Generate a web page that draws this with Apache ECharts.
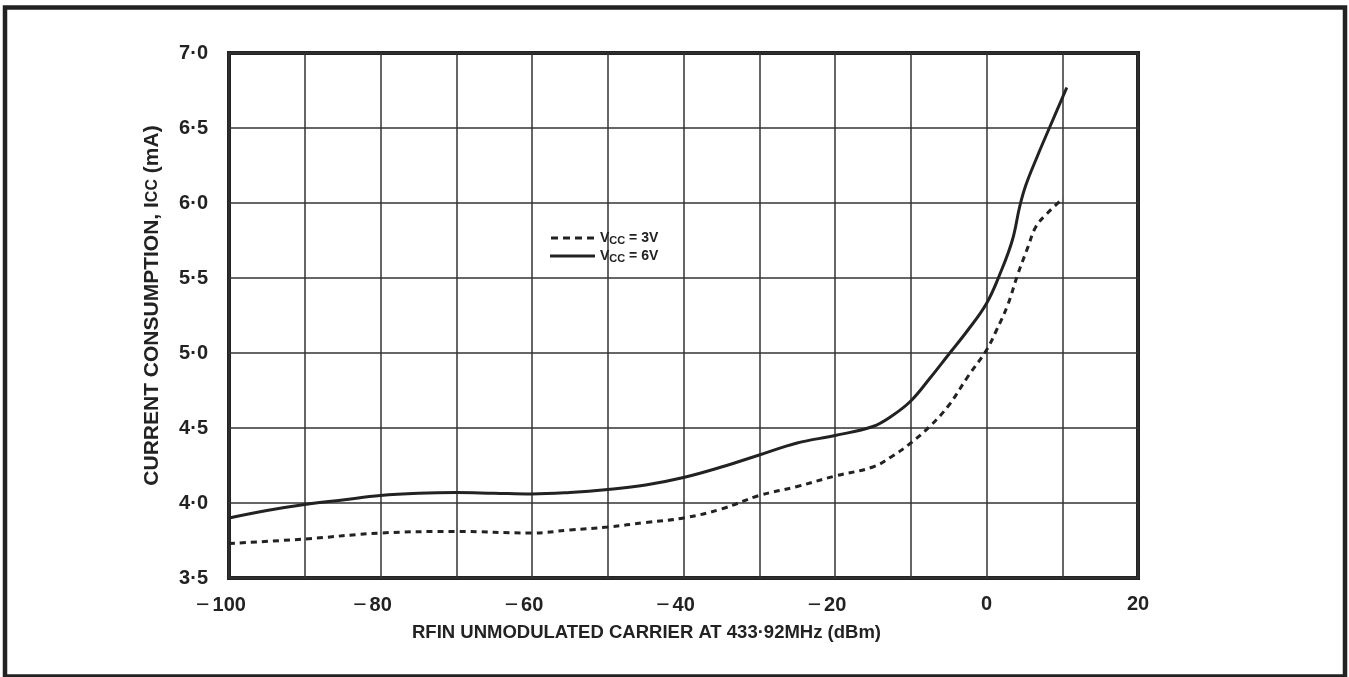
<!DOCTYPE html>
<html>
<head>
<meta charset="utf-8">
<script src="https://cdn.jsdelivr.net/npm/echarts@6/dist/echarts.min.js"></script>
<style>
  html, body { margin: 0; padding: 0; background: #fff; }
  #chart { width: 1349px; height: 677px; }
</style>
</head>
<body>
<div id="chart"></div>
<script>
// 读图得到的数据 (x = RF input dBm, y = Icc mA)
const vcc3V = [
  [-100, 3.73], [-90, 3.76], [-80, 3.80], [-70, 3.81], [-60, 3.80], [-55, 3.82],
  [-50, 3.84], [-45, 3.87], [-40, 3.90], [-35, 3.96], [-30, 4.05], [-25, 4.11],
  [-20, 4.18], [-15, 4.24], [-12.5, 4.31], [-10, 4.40], [-7.5, 4.51], [-5, 4.65],
  [-2.5, 4.84], [0, 5.02], [1.3, 5.15], [2.8, 5.32], [4.1, 5.52], [5.5, 5.71],
  [6.5, 5.84], [8.0, 5.93], [10.1, 6.03]
];
const vcc6V = [
  [-100, 3.90], [-95, 3.95], [-90, 3.99], [-85, 4.02], [-80, 4.05], [-75, 4.065],
  [-70, 4.07], [-65, 4.065], [-60, 4.06], [-55, 4.07], [-50, 4.09], [-45, 4.12],
  [-40, 4.17], [-35, 4.24], [-30, 4.32], [-25, 4.40], [-20, 4.45], [-15, 4.51],
  [-12.5, 4.58], [-10, 4.68], [-7.5, 4.83], [-5, 4.99], [-2.5, 5.15], [0, 5.33],
  [1.8, 5.53], [3.4, 5.75], [4.4, 5.98], [5.2, 6.12], [6.7, 6.31], [8.3, 6.5], [10.6, 6.77]
];
const seriesNames = ['VCC = 3V', 'VCC = 6V'];
const xTicks = [-100, -80, -60, -40, -20, 0, 20];

const ink = '#222';
const font = 'Liberation Sans, Arial, sans-serif';

const chart = echarts.init(document.getElementById('chart'));
const option = {
  backgroundColor: '#fff',
  animation: false,
  graphic: [
    {
      // 外框
      type: 'rect',
      shape: { x: 5, y: 7.5, width: 1340, height: 669 },
      style: { fill: 'none', stroke: ink, lineWidth: 4.5 }
    }
  ],
  grid: {
    left: 229, right: 211, top: 53, bottom: 99,
    show: true, borderColor: ink, borderWidth: 4
  },
  legend: {
    orient: 'vertical',
    left: 545, top: 226,
    itemWidth: 45, itemHeight: 3, itemGap: 3,
    data: [
      { name: seriesNames[0], icon: 'path://M0,0h7v3h-7z M12,0h7v3h-7z M24,0h7v3h-7z M36,0h7v3h-7z' },
      { name: seriesNames[1], icon: 'path://M0,0h45v3h-45z' }
    ],
    itemStyle: { color: ink, borderWidth: 0 },
    formatter: name => '{v|V}{s|CC}{v|' + name.slice(3) + '}',
    textStyle: {
      rich: {
        v: { fontFamily: font, fontWeight: 'bold', fontSize: 14, color: ink },
        s: { fontFamily: font, fontWeight: 'bold', fontSize: 11, color: ink, padding: [5, 0, 0, 0] }
      }
    }
  },
  xAxis: {
    type: 'value',
    min: -100, max: 20, interval: 10,
    name: 'RFIN UNMODULATED CARRIER AT 433·92MHz (dBm)',
    nameLocation: 'middle',
    nameGap: 45,
    nameTextStyle: {
      fontFamily: font, fontWeight: 'bold', fontSize: 18.5, color: ink,
      padding: [0, 74, 0, 0]
    },
    axisLine: { show: false },
    axisTick: { show: false },
    splitLine: { lineStyle: { color: '#333', width: 1.5 } },
    axisLabel: {
      margin: 16,
      fontFamily: font, fontWeight: 'bold', fontSize: 20, color: ink,
      formatter: v => {
        if (xTicks.indexOf(v) < 0) return '';
        return v < 0 ? '{m|\u2212}{n|' + Math.abs(v) + '}{p|}' : '{n|' + v + '}';
      },
      rich: {
        m: { fontFamily: font, fontWeight: 'normal', fontSize: 23, color: ink, padding: [0, 3, 0, 0] },
        n: { fontFamily: font, fontWeight: 'bold', fontSize: 20, color: ink },
        p: { width: 16 }
      }
    }
  },
  yAxis: {
    type: 'value',
    min: 3.5, max: 7, interval: 0.5,
    name: 'CURRENT CONSUMPTION, I{s|CC} (mA)',
    nameLocation: 'middle',
    nameGap: 66,
    nameTextStyle: {
      fontFamily: font, fontWeight: 'bold', fontSize: 21, color: ink,
      padding: [0, 0, 0, 20],
      rich: {
        s: { fontFamily: font, fontWeight: 'bold', fontSize: 16, color: ink }
      }
    },
    axisLine: { show: false },
    axisTick: { show: false },
    splitLine: { lineStyle: { color: '#333', width: 1.5 } },
    axisLabel: {
      margin: 21,
      fontFamily: font, fontWeight: 'bold', fontSize: 20, color: ink,
      formatter: v => v.toFixed(1).replace('.', '·')
    }
  },
  series: [
    {
      name: seriesNames[0],
      type: 'line',
      data: vcc3V,
      smooth: 0.4,
      symbol: 'none',
      lineStyle: { color: ink, width: 3, type: [6, 5] },
      itemStyle: { color: ink }
    },
    {
      name: seriesNames[1],
      type: 'line',
      data: vcc6V,
      smooth: 0.4,
      symbol: 'none',
      lineStyle: { color: ink, width: 3 },
      itemStyle: { color: ink }
    }
  ]
};
chart.setOption(option);
</script>
</body>
</html>
